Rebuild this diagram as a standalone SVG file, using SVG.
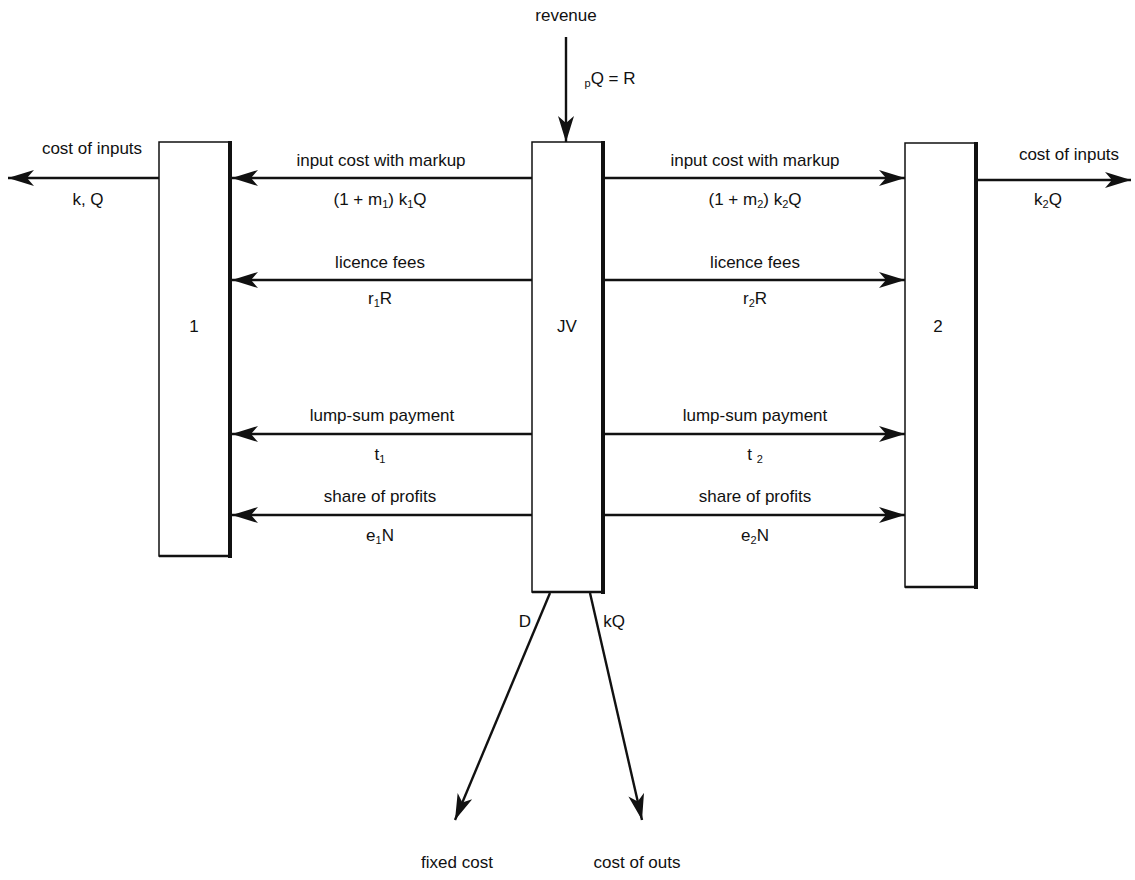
<svg xmlns="http://www.w3.org/2000/svg" width="1135" height="880" viewBox="0 0 1135 880">
<style>
text{font-family:"Liberation Sans",Arial,sans-serif;font-size:17px;fill:#111;text-anchor:middle}
.box{fill:#fff;stroke:#111;stroke-width:1.5}
.edge{stroke:#111;stroke-width:4}
.conn{stroke:#111;stroke-width:2.4;fill:none;marker-end:url(#ah)}
.sub{font-size:11px}
</style>
<defs>
<marker id="ah" markerUnits="userSpaceOnUse" markerWidth="28" markerHeight="18" refX="26" refY="8" orient="auto">
<path d="M0,0 L26,8 L0,16 L7,8 z" fill="#111"/>
</marker>
</defs>
<rect width="1135" height="880" fill="#fff"/>
<g id="box1">
<rect class="box" x="159" y="142" width="71" height="414"/>
<line class="edge" x1="230" y1="141" x2="230" y2="558"/>
<line x1="159" y1="556" x2="232" y2="556" stroke="#111" stroke-width="2.5"/>
<text x="194" y="332">1</text>
</g>
<g id="jv">
<rect class="box" x="532" y="142" width="71" height="450"/>
<line class="edge" x1="603" y1="141" x2="603" y2="594"/>
<line x1="532" y1="592" x2="605" y2="592" stroke="#111" stroke-width="2.5"/>
<text x="567" y="332">JV</text>
</g>
<g id="box2">
<rect class="box" x="905" y="143" width="71" height="444"/>
<line class="edge" x1="976" y1="142" x2="976" y2="589"/>
<line x1="905" y1="587" x2="978" y2="587" stroke="#111" stroke-width="2.5"/>
<text x="938" y="332">2</text>
</g>
<g id="connectors">
<line class="conn" x1="566" y1="37" x2="566" y2="142"/>
<line class="conn" x1="159" y1="178" x2="8" y2="178"/>
<line class="conn" x1="978" y1="180" x2="1131" y2="180"/>
<line class="conn" x1="532" y1="178" x2="232" y2="178"/>
<line class="conn" x1="605" y1="178" x2="905" y2="178"/>
<line class="conn" x1="532" y1="280" x2="232" y2="280"/>
<line class="conn" x1="605" y1="280" x2="905" y2="280"/>
<line class="conn" x1="532" y1="434" x2="232" y2="434"/>
<line class="conn" x1="605" y1="434" x2="905" y2="434"/>
<line class="conn" x1="532" y1="515" x2="232" y2="515"/>
<line class="conn" x1="605" y1="515" x2="905" y2="515"/>
<line class="conn" x1="550" y1="593" x2="455" y2="820"/>
<line class="conn" x1="590" y1="593" x2="642" y2="820"/>
</g>
<g id="labels">
<text x="566" y="21">revenue</text>
<text x="610" y="84"><tspan class="sub" dy="3">p</tspan><tspan dy="-3">Q = R</tspan></text>
<text x="92" y="154">cost of inputs</text>
<text x="88" y="205">k, Q</text>
<text x="1069" y="160">cost of inputs</text>
<text x="1048" y="205">k<tspan class="sub" dy="3">2</tspan><tspan dy="-3">Q</tspan></text>
<text x="381" y="166">input cost with markup</text>
<text x="380" y="205">(1 + m<tspan class="sub" dy="3">1</tspan><tspan dy="-3">) k</tspan><tspan class="sub" dy="3">1</tspan><tspan dy="-3">Q</tspan></text>
<text x="755" y="166">input cost with markup</text>
<text x="755" y="205">(1 + m<tspan class="sub" dy="3">2</tspan><tspan dy="-3">) k</tspan><tspan class="sub" dy="3">2</tspan><tspan dy="-3">Q</tspan></text>
<text x="380" y="268">licence fees</text>
<text x="380" y="304">r<tspan class="sub" dy="3">1</tspan><tspan dy="-3">R</tspan></text>
<text x="755" y="268">licence fees</text>
<text x="755" y="304">r<tspan class="sub" dy="3">2</tspan><tspan dy="-3">R</tspan></text>
<text x="382" y="421">lump-sum payment</text>
<text x="380" y="460">t<tspan class="sub" dy="3">1</tspan></text>
<text x="755" y="421">lump-sum payment</text>
<text x="755" y="460">t <tspan class="sub" dy="3">2</tspan></text>
<text x="380" y="502">share of profits</text>
<text x="380" y="541">e<tspan class="sub" dy="3">1</tspan><tspan dy="-3">N</tspan></text>
<text x="755" y="502">share of profits</text>
<text x="755" y="541">e<tspan class="sub" dy="3">2</tspan><tspan dy="-3">N</tspan></text>
<text x="525" y="627">D</text>
<text x="614" y="627">kQ</text>
<text x="457" y="868">fixed cost</text>
<text x="637" y="868">cost of outs</text>
</g>
</svg>
